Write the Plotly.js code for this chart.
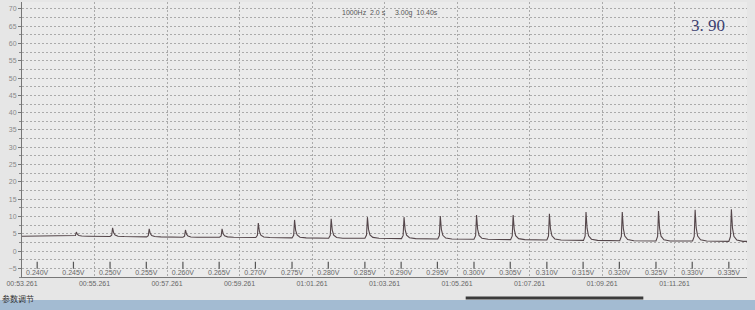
<!DOCTYPE html>
<html>
<head>
<meta charset="utf-8">
<script src="https://cdn.plot.ly/plotly-3.0.1.min.js"></script>
<style>
html,body{margin:0;padding:0;background:#e6e6e6;}
#chart{width:755px;height:310px;}
</style>
</head>
<body>
<div id="chart"></div>
<script>
// ---- data ----
// beat (peak) times in seconds
const beatTimes = [54.76, 55.76, 56.77, 57.77, 58.78, 59.78, 60.78, 61.79, 62.79, 63.80,
                   64.80, 65.80, 66.81, 67.81, 68.82, 69.82, 70.82, 71.83, 72.83];
// peak values
const peakValues = [5.5, 6.7, 6.4, 6.1, 6.4, 8.1, 9.0, 9.3, 9.8, 9.8,
                    10.1, 10.4, 10.4, 10.8, 11.3, 11.3, 11.6, 11.9, 12.1];
// baseline level before each beat
const baseValues = [4.3, 4.2, 4.1, 4.0, 4.0, 3.9, 3.8, 3.7, 3.7, 3.6,
                    3.5, 3.4, 3.3, 3.2, 3.1, 3.0, 2.9, 2.9, 2.8];
const startTime = 53.261, endTime = 73.261;

// time axis tick labels
const timeTickVals = [53.261, 55.261, 57.261, 59.261, 61.261, 63.261, 65.261, 67.261, 69.261, 71.261];
const timeTickText = ["00:53.261", "00:55.261", "00:57.261", "00:59.261", "01:01.261",
                      "01:03.261", "01:05.261", "01:07.261", "01:09.261", "01:11.261"];

// voltage marker labels and their times
const voltTimes = [53.68, 54.68, 55.69, 56.69, 57.70, 58.70, 59.70, 60.71, 61.71, 62.72,
                   63.72, 64.72, 65.73, 66.73, 67.74, 68.74, 69.74, 70.75, 71.75, 72.76];
const voltLabels = ["0.240V", "0.245V", "0.250V", "0.255V", "0.260V", "0.265V", "0.270V", "0.275V",
                    "0.280V", "0.285V", "0.290V", "0.295V", "0.300V", "0.305V", "0.310V", "0.315V",
                    "0.320V", "0.325V", "0.330V", "0.335V"];

// ---- build the trace from the beats (pulse outline: relative offsets / fractions) ----
const pulseDt   = [-0.07, -0.025, 0, 0.03, 0.07, 0.15, 0.32];
const pulseFrac = [0, 0.15, 1, 0.42, 0.16, 0.04, 0];
const xs = [startTime], ys = [baseValues[0]];
beatTimes.forEach((t, i) => {
  const b = baseValues[i], h = peakValues[i] - b;
  pulseDt.forEach((d, j) => { xs.push(t + d); ys.push(b + pulseFrac[j] * h); });
});
xs.push(endTime); ys.push(baseValues[baseValues.length - 1]);

const gridColor = '#aaaaaa';
const traces = [
  {
    x: xs, y: ys, type: 'scatter', mode: 'lines',
    line: {color: '#54464a', width: 1.1},
    hoverinfo: 'skip', showlegend: false
  },
  {
    x: voltTimes, y: voltTimes.map(() => -4.1), type: 'scatter', mode: 'markers',
    marker: {symbol: 'line-ns', size: 5, line: {color: '#555', width: 1.2}},
    hoverinfo: 'skip', showlegend: false
  },
  {
    x: voltTimes, y: voltTimes.map(() => -6.3), type: 'scatter', mode: 'text',
    text: voltLabels, textposition: 'middle center',
    textfont: {family: 'Liberation Sans, Arial', size: 7, color: '#666'},
    hoverinfo: 'skip', showlegend: false
  }
];

const layout = {
  width: 755, height: 310,
  margin: {l: 22, r: 8, t: 2, b: 33},
  paper_bgcolor: '#e6e6e6',
  plot_bgcolor: '#ebebeb',
  showlegend: false,
  xaxis: {
    range: [startTime, endTime],
    tickmode: 'array', tickvals: timeTickVals, ticktext: timeTickText,
    tickfont: {family: 'Liberation Sans, Arial', size: 7, color: '#666'},
    showgrid: true, gridcolor: gridColor, griddash: '2px,2px', gridwidth: 1,
    showline: true, linecolor: '#777', linewidth: 1,
    ticks: '', zeroline: false, fixedrange: true
  },
  yaxis: {
    range: [-7.5, 72],
    tick0: 0, dtick: 5,
    tickfont: {family: 'Liberation Sans, Arial', size: 7, color: '#888'},
    ticks: 'outside', ticklen: 3, tickcolor: '#777',
    showgrid: true, gridcolor: gridColor, griddash: '2px,2px', gridwidth: 1,
    minor: {dtick: 2.5, showgrid: true, gridcolor: gridColor, griddash: '2px,2px',
            ticks: 'outside', ticklen: 2, tickcolor: '#888'},
    showline: true, linecolor: '#777', linewidth: 1,
    zeroline: false, fixedrange: true
  },
  shapes: [
    {type: 'rect', xref: 'paper', yref: 'paper', x0: -0.05, x1: 1.02, y0: -0.084, y1: -0.125,
     fillcolor: '#a3bbd2', line: {width: 0}, layer: 'above'},
    {type: 'line', xref: 'paper', yref: 'paper', x0: 0.612, x1: 0.857, y0: -0.0765, y1: -0.0765,
     line: {color: '#3b3b3b', width: 3}}
  ],
  annotations: [
    {xref: 'paper', yref: 'paper', x: 0.508, y: 0.982, showarrow: false,
     text: '1000Hz  2.0 s     3.00g  10.40s',
     font: {family: 'Liberation Sans, Arial', size: 7, color: '#555'}},
    {xref: 'paper', yref: 'paper', x: 0.972, y: 0.955, showarrow: false,
     text: '3. 90',
     font: {family: 'Liberation Serif, DejaVu Serif, serif', size: 17, color: '#3d4170'}},
    {xref: 'paper', yref: 'paper', x: -0.031, y: -0.104, xanchor: 'left', showarrow: false,
     text: '参数调节',
     font: {family: 'Noto Sans CJK SC', size: 8, color: '#333'}}
  ]
};

Plotly.newPlot('chart', traces, layout, {displayModeBar: false, staticPlot: true});
</script>
</body>
</html>
